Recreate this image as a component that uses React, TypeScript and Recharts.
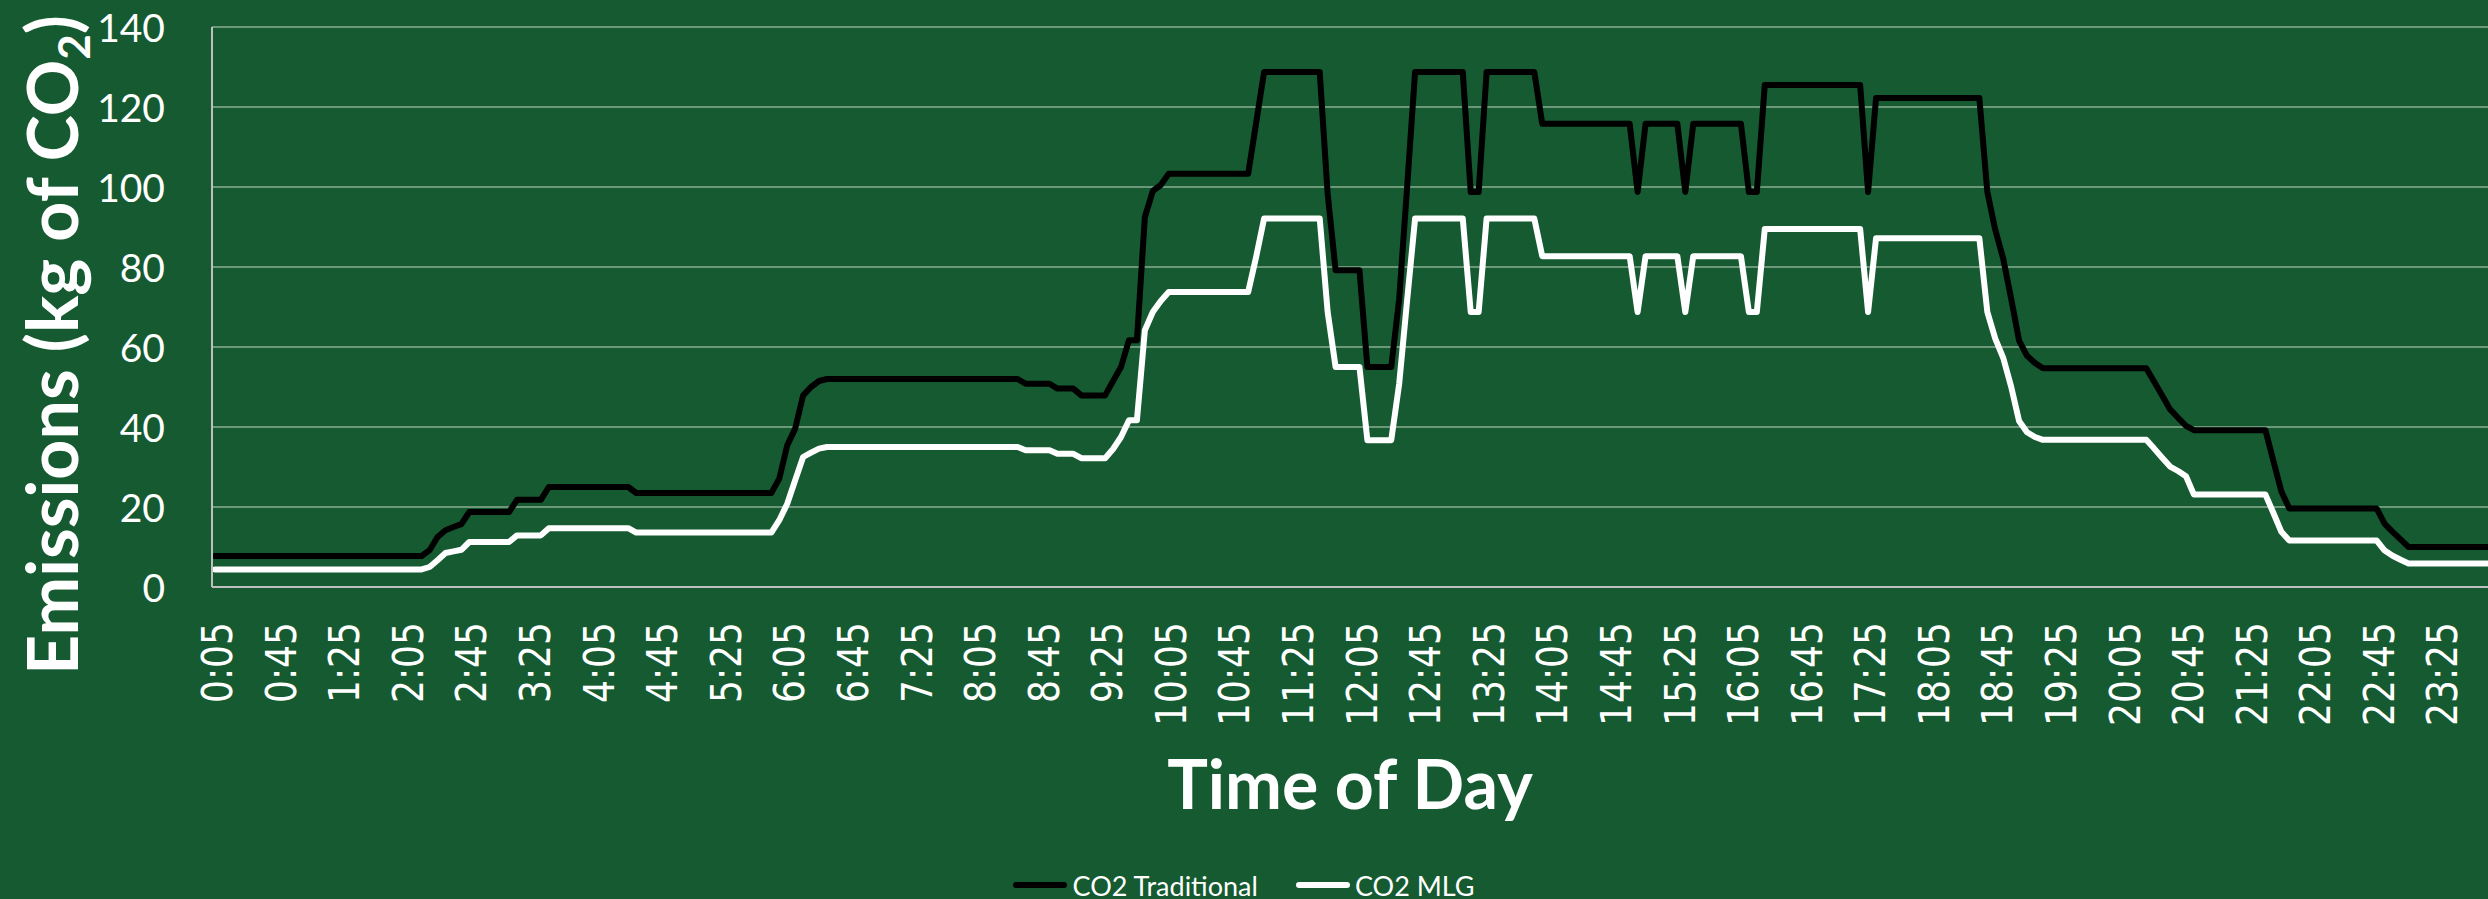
import React from 'react';
import { LineChart, Line, XAxis, YAxis, CartesianGrid, Legend, Label } from 'recharts';

// time of day, every 5 minutes from 0:05 to 23:55
const times: string[] = [];
for (let m = 5; m < 24 * 60; m += 5) {
  times.push(`${Math.floor(m / 60)}:${String(m % 60).padStart(2, '0')}`);
}

// kg of CO2, one row per hour (h:05 ... h+1:00)
const co2Traditional = [
  7.75, 7.75, 7.75, 7.75, 7.75, 7.75, 7.75, 7.75, 7.75, 7.75, 7.75, 7.75,
  7.75, 7.75, 7.75, 7.75, 7.75, 7.75, 7.75, 7.75, 7.75, 7.75, 7.75, 7.75,
  7.75, 7.75, 7.75, 9.2, 12.5, 14.2, 15, 15.7, 18.75, 18.75, 18.75, 18.75,
  18.75, 18.75, 21.8, 21.8, 21.8, 21.8, 25, 25, 25, 25, 25, 25,
  25, 25, 25, 25, 25, 23.5, 23.5, 23.5, 23.5, 23.5, 23.5, 23.5,
  23.5, 23.5, 23.5, 23.5, 23.5, 23.5, 23.5, 23.5, 23.5, 23.5, 23.5, 27.1,
  35.4, 39.6, 47.9, 50, 51.5, 52, 52, 52, 52, 52, 52, 52,
  52, 52, 52, 52, 52, 52, 52, 52, 52, 52, 52, 52,
  52, 52, 52, 52, 52, 52, 50.8, 50.8, 50.8, 50.8, 49.6, 49.6,
  49.6, 47.9, 47.9, 47.9, 47.9, 51.5, 55, 61.7, 61.7, 92.5, 99, 100.5,
  103.3, 103.3, 103.3, 103.3, 103.3, 103.3, 103.3, 103.3, 103.3, 103.3, 103.3, 116,
  128.75, 128.75, 128.75, 128.75, 128.75, 128.75, 128.75, 128.75, 98.3, 79.2, 79.2, 79.2,
  79.2, 55, 55, 55, 55, 72, 100, 128.75, 128.75, 128.75, 128.75, 128.75,
  128.75, 128.75, 98.75, 98.75, 128.75, 128.75, 128.75, 128.75, 128.75, 128.75, 128.75, 115.8,
  115.8, 115.8, 115.8, 115.8, 115.8, 115.8, 115.8, 115.8, 115.8, 115.8, 115.8, 98.75,
  115.8, 115.8, 115.8, 115.8, 115.8, 98.75, 115.8, 115.8, 115.8, 115.8, 115.8, 115.8,
  115.8, 98.75, 98.75, 125.5, 125.5, 125.5, 125.5, 125.5, 125.5, 125.5, 125.5, 125.5,
  125.5, 125.5, 125.5, 125.5, 98.75, 122.25, 122.25, 122.25, 122.25, 122.25, 122.25, 122.25,
  122.25, 122.25, 122.25, 122.25, 122.25, 122.25, 122.25, 98.85, 89.3, 82.1, 72.1, 61.6,
  57.8, 56, 54.7, 54.7, 54.7, 54.7, 54.7, 54.7, 54.7, 54.7, 54.7, 54.7,
  54.7, 54.7, 54.7, 54.7, 51.3, 47.9, 44.4, 42.3, 40.3, 39.2, 39.2, 39.2,
  39.2, 39.2, 39.2, 39.2, 39.2, 39.2, 39.2, 31.5, 23.9, 19.6, 19.6, 19.6,
  19.6, 19.6, 19.6, 19.6, 19.6, 19.6, 19.6, 19.6, 19.6, 15.8, 13.8, 11.9,
  10, 10, 10, 10, 10, 10, 10, 10, 10, 10, 10,
];

const co2MLG = [
  4.4, 4.4, 4.4, 4.4, 4.4, 4.4, 4.4, 4.4, 4.4, 4.4, 4.4, 4.4,
  4.4, 4.4, 4.4, 4.4, 4.4, 4.4, 4.4, 4.4, 4.4, 4.4, 4.4, 4.4,
  4.4, 4.4, 4.4, 5, 6.7, 8.5, 8.9, 9.3, 11.25, 11.25, 11.25, 11.25,
  11.25, 11.25, 12.9, 12.9, 12.9, 12.9, 14.7, 14.7, 14.7, 14.7, 14.7, 14.7,
  14.7, 14.7, 14.7, 14.7, 14.7, 13.6, 13.6, 13.6, 13.6, 13.6, 13.6, 13.6,
  13.6, 13.6, 13.6, 13.6, 13.6, 13.6, 13.6, 13.6, 13.6, 13.6, 13.6, 16.7,
  20.8, 26.7, 32.5, 33.6, 34.6, 35, 35, 35, 35, 35, 35, 35,
  35, 35, 35, 35, 35, 35, 35, 35, 35, 35, 35, 35,
  35, 35, 35, 35, 35, 35, 34.2, 34.2, 34.2, 34.2, 33.3, 33.3,
  33.3, 32.2, 32.2, 32.2, 32.2, 34.5, 37.5, 41.7, 41.7, 64.2, 68.75, 71.5,
  73.75, 73.75, 73.75, 73.75, 73.75, 73.75, 73.75, 73.75, 73.75, 73.75, 73.75, 82.5,
  92.1, 92.1, 92.1, 92.1, 92.1, 92.1, 92.1, 92.1, 68.75, 55, 55, 55,
  55, 36.7, 36.7, 36.7, 36.7, 50.8, 71.7, 92.1, 92.1, 92.1, 92.1, 92.1,
  92.1, 92.1, 68.75, 68.75, 92.1, 92.1, 92.1, 92.1, 92.1, 92.1, 92.1, 82.7,
  82.7, 82.7, 82.7, 82.7, 82.7, 82.7, 82.7, 82.7, 82.7, 82.7, 82.7, 68.75,
  82.7, 82.7, 82.7, 82.7, 82.7, 68.75, 82.7, 82.7, 82.7, 82.7, 82.7, 82.7,
  82.7, 68.75, 68.75, 89.5, 89.5, 89.5, 89.5, 89.5, 89.5, 89.5, 89.5, 89.5,
  89.5, 89.5, 89.5, 89.5, 68.75, 87.2, 87.2, 87.2, 87.2, 87.2, 87.2, 87.2,
  87.2, 87.2, 87.2, 87.2, 87.2, 87.2, 87.2, 68.8, 62.1, 57.3, 50.1, 41.5,
  38.7, 37.5, 36.8, 36.8, 36.8, 36.8, 36.8, 36.8, 36.8, 36.8, 36.8, 36.8,
  36.8, 36.8, 36.8, 36.8, 34.6, 32.3, 30.1, 29, 27.7, 23.1, 23.1, 23.1,
  23.1, 23.1, 23.1, 23.1, 23.1, 23.1, 23.1, 18.5, 13.8, 11.6, 11.6, 11.6,
  11.6, 11.6, 11.6, 11.6, 11.6, 11.6, 11.6, 11.6, 11.6, 9.1, 7.8, 6.8,
  5.9, 5.9, 5.9, 5.9, 5.9, 5.9, 5.9, 5.9, 5.9, 5.9, 5.9,
];

const yTicks = [0, 20, 40, 60, 80, 100, 120, 140];

const data = times.map((t, i) => ({
  time: t,
  traditional: co2Traditional[i],
  mlg: co2MLG[i],
}));

const BG = '#155a30';
const FONT = 'Lato, "Noto Sans", sans-serif';

const XTick = ({ x, payload }: any) => (
  <text
    transform={`translate(${x + 2},622) rotate(-90) scale(0.84,1)`}
    textAnchor="end"
    dominantBaseline="central"
    fill="#ffffff"
    fontFamily='"DejaVu Sans", sans-serif'
    fontSize={43}
  >
    {payload.value}
  </text>
);

const YTick = ({ y, payload }: any) => (
  <text x={165} y={y} textAnchor="end" dominantBaseline="central" fill="#ffffff" fontFamily={FONT} fontSize={39}>
    {payload.value}
  </text>
);

const YTitle = () => (
  <text
    transform="translate(78,345) rotate(-90)"
    textAnchor="middle"
    fill="#ffffff"
    fontFamily={FONT}
    fontWeight={700}
    fontSize={70}
  >
    Emissions (kg of CO
    <tspan fontSize={44} dy={12}>2</tspan>
    <tspan dy={-12}>)</tspan>
  </text>
);

const XTitle = ({ viewBox }: any) => (
  <text
    x={viewBox.x + viewBox.width / 2}
    y={809}
    textAnchor="middle"
    fill="#ffffff"
    fontFamily={FONT}
    fontWeight={700}
    fontSize={68}
  >
    Time of Day
  </text>
);

const legendItems = [
  { name: 'CO2 Traditional', color: '#000000' },
  { name: 'CO2 MLG', color: '#ffffff' },
];

const LegendContent = () => (
  <div
    style={{
      display: 'flex',
      justifyContent: 'center',
      alignItems: 'center',
      height: 50,
      fontFamily: FONT,
      fontSize: 27,
      color: '#ffffff',
      paddingLeft: 0,
    }}
  >
    {legendItems.map((it, k) => (
      <div key={it.name} style={{ display: 'flex', alignItems: 'center', marginLeft: k ? 38 : 0 }}>
        <svg width={54} height={10}>
          <line x1={3} y1={5} x2={51} y2={5} stroke={it.color} strokeWidth={6} strokeLinecap="round" />
        </svg>
        <span style={{ marginLeft: 5 }}>{it.name}</span>
      </div>
    ))}
  </div>
);

export default function App() {
  return (
    <div style={{ width: 2488, height: 899, background: BG, position: 'relative' }}>
      <style>{'body{margin:0;overflow:hidden}'}</style>
      <LineChart width={2488} height={899} data={data} margin={{ top: 27, right: 0, bottom: 0, left: 0 }}>
        <CartesianGrid vertical={false} stroke="#6c9879" strokeWidth={2} />
        <XAxis
          dataKey="time"
          interval={7}
          tick={<XTick />}
          tickLine={false}
          axisLine={{ stroke: '#bfbfbf', strokeWidth: 2 }}
          height={262}
          padding={{ left: 3, right: 0 }}
        >
          <Label content={<XTitle />} />
        </XAxis>
        <YAxis
          domain={[0, 140]}
          ticks={yTicks}
          tick={<YTick />}
          tickLine={false}
          axisLine={{ stroke: '#bfbfbf', strokeWidth: 2 }}
          width={212}
        >
          <Label content={<YTitle />} />
        </YAxis>
        <Legend
          verticalAlign="bottom"
          content={<LegendContent />}
          wrapperStyle={{ top: 860, left: 0, width: 2488, height: 50 }}
        />
        <Line
          type="linear"
          dataKey="traditional"
          name="CO2 Traditional"
          stroke="#000000"
          strokeWidth={6}
          strokeLinejoin="round"
          strokeLinecap="round"
          dot={false}
          activeDot={false}
          isAnimationActive={false}
        />
        <Line
          type="linear"
          dataKey="mlg"
          name="CO2 MLG"
          stroke="#ffffff"
          strokeWidth={6}
          strokeLinejoin="round"
          strokeLinecap="round"
          dot={false}
          activeDot={false}
          isAnimationActive={false}
        />
      </LineChart>
    </div>
  );
}
